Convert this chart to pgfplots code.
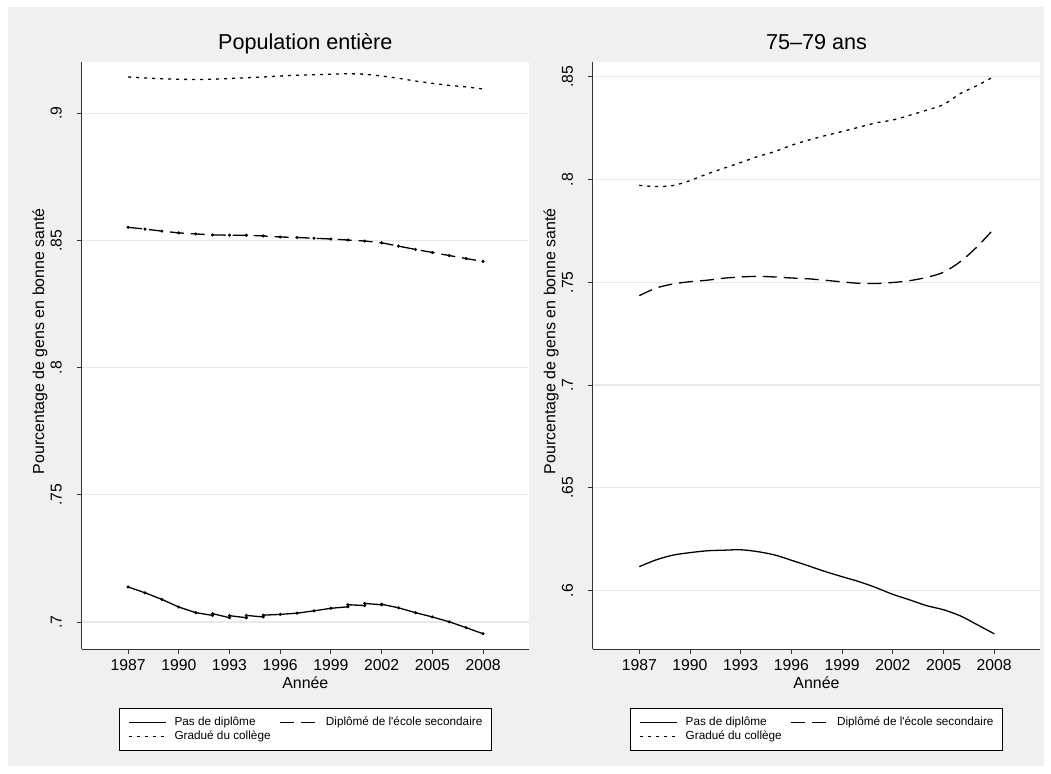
\documentclass[border=0pt]{standalone}
\usepackage{fontspec}
\setmainfont{Liberation Sans}
\usepackage{pgfplots}
\pgfplotsset{compat=1.18}
\definecolor{bggray}{RGB}{240,240,240}
\definecolor{gridgray}{RGB}{232,232,232}
\definecolor{axgray}{RGB}{50,50,50}

\pgfplotsset{
  statastyle/.style={
    scale only axis, width=447.4bp, height=586.5bp,
    xmin=1984.25, xmax=2010.72,
    xtick={1987,1990,1993,1996,1999,2002,2005,2008},
    axis x line*=bottom, axis y line*=left,
    axis line style={-, draw=axgray, line width=0.9bp},
    tick align=outside, major tick length=5bp,
    tick style={draw=axgray, line width=0.9bp},
    minor tick num=0,
    ymajorgrids, xmajorgrids=false,
    grid style={draw=gridgray, line width=1.2bp},
    axis background/.style={fill=white},
    /pgf/number format/assume math mode=true,
    xticklabel style={font=\fontsize{15.8}{18}\selectfont, anchor=base, yshift=-16bp, /pgf/number format/1000 sep={}},
    yticklabel style={font=\fontsize{15.8}{18}\selectfont, xshift=-15bp, rotate=90, anchor=base, inner sep=0pt,
      /pgf/number format/fixed, /pgf/number format/precision=2, /pgf/number format/skip 0.=true},
    title style={at={(axis description cs:0.5,1)}, anchor=base, yshift=7bp, font=\fontsize{21.7}{26}\selectfont},
    xlabel style={at={(axis description cs:0.5,0)}, anchor=base, yshift=-39bp, font=\fontsize{16}{19}\selectfont},
    ylabel style={at={(axis description cs:-0.093,0.525)}, anchor=center, font=\fontsize{16}{19}\selectfont},
    xlabel={Année},
    ylabel={Pourcentage de gens en bonne santé},
    legend columns=2,
    legend cell align=left,
    legend image code/.code={\draw[#1] (0bp,0bp) -- (37bp,0bp);},
    legend style={draw=black, line width=0.8bp, fill=white, inner xsep=9bp, inner ysep=8bp,
      at={(0.5,-0.1013)}, anchor=north, font=\fontsize{11.8}{13}\selectfont, row sep=3.5bp,
      nodes={inner sep=0pt, text height=8.5bp, text depth=2.5bp},
      /tikz/every odd column/.style={column sep=8bp},
      /tikz/every even column/.style={column sep=9bp}},
  },
  solidline/.style={draw=black, line width=1.3bp, solid},
  dashline/.style={draw=black, line width=1.3bp, dash pattern=on 14bp off 7bp},
  dotline/.style={draw=black, line width=1.3bp, dash pattern=on 3bp off 5bp},
}

\begin{document}
\begin{tikzpicture}
\fill[white] (0bp,0bp) rectangle (1051bp,774bp);
\fill[bggray] (7.5bp,7.5bp) rectangle (1043.5bp,766.5bp);

\begin{axis}[statastyle, at={(81.6bp,125bp)}, anchor=south west,
  ymin=0.6894, ymax=0.920, ytick={0.7,0.75,0.8,0.85,0.9},
  title={Population entière}]
\addplot[solidline, mark=*, mark size=0.8bp, mark options={solid}] coordinates {
 (1987,0.7138) (1988,0.7115) (1989,0.7089) (1990,0.7059) (1991,0.7037)
 (1992,0.7026) (1992,0.7033) (1993,0.7017) (1993,0.7025) (1994,0.7017) (1994,0.7026)
 (1995,0.7020) (1995,0.7027) (1996,0.7030) (1997,0.7035) (1998,0.7044) (1999,0.7054)
 (2000,0.7060) (2000,0.7068) (2001,0.7065) (2001,0.7073) (2002,0.7068) (2002,0.7070)
 (2003,0.7056) (2004,0.7037) (2005,0.7020) (2006,0.7001) (2007,0.6978) (2008,0.6954)
};
\addlegendentry{Pas de diplôme}
\addplot[dashline, mark=*, mark size=0.8bp, mark options={solid}] coordinates {
 (1987,0.8552) (1988,0.8545) (1989,0.8537) (1990,0.8530) (1991,0.8526) (1992,0.8522)
 (1993,0.8521) (1994,0.8521) (1995,0.8518) (1996,0.8514) (1997,0.8512) (1998,0.8509)
 (1999,0.8506) (2000,0.8502) (2001,0.8498) (2002,0.8491) (2003,0.8478) (2004,0.8465)
 (2005,0.8453) (2006,0.8441) (2007,0.8429) (2008,0.8418)
};
\addlegendentry{Diplômé de l\textquotesingle école secondaire}
\addplot[dotline] coordinates {
 (1987,0.9143) (1988,0.9139) (1989,0.9136) (1990,0.9134) (1991,0.9133) (1992,0.9134)
 (1993,0.9137) (1994,0.9140) (1995,0.9143) (1996,0.9147) (1997,0.9150) (1998,0.9152)
 (1999,0.9154) (2000,0.9156) (2001,0.9154) (2002,0.9147) (2003,0.9138) (2004,0.9127)
 (2005,0.9118) (2006,0.9110) (2007,0.9104) (2008,0.9096)
};
\addlegendentry{Gradué du collège}
\end{axis}

\begin{axis}[statastyle, at={(592.8bp,125bp)}, anchor=south west,
  ymin=0.5715, ymax=0.857, ytick={0.6,0.65,0.7,0.75,0.8,0.85},
  title={75–79 ans}]
\addplot[solidline, smooth] coordinates {
 (1987,0.6116) (1988,0.6149) (1989,0.6172) (1990,0.6184) (1991,0.6193) (1992,0.6196)
 (1993,0.6198) (1994,0.6189) (1995,0.6173) (1996,0.6147) (1997,0.6120) (1998,0.6092)
 (1999,0.6067) (2000,0.6043) (2001,0.6014) (2002,0.5981) (2003,0.5954) (2004,0.5926)
 (2005,0.5906) (2006,0.5876) (2007,0.5833) (2008,0.5789)
};
\addlegendentry{Pas de diplôme}
\addplot[dashline, smooth] coordinates {
 (1987,0.7435) (1988,0.7472) (1989,0.7492) (1990,0.7503) (1991,0.7510) (1992,0.7520)
 (1993,0.7526) (1994,0.7529) (1995,0.7526) (1996,0.7521) (1997,0.7517) (1998,0.7510)
 (1999,0.7502) (2000,0.7495) (2001,0.7494) (2002,0.7499) (2003,0.7508) (2004,0.7524)
 (2005,0.7549) (2006,0.7601) (2007,0.7674) (2008,0.7762)
};
\addlegendentry{Diplômé de l\textquotesingle école secondaire}
\addplot[dotline, smooth] coordinates {
 (1987,0.7972) (1988,0.7966) (1989,0.7971) (1990,0.7995) (1991,0.8027) (1992,0.8055)
 (1993,0.8083) (1994,0.8112) (1995,0.8136) (1996,0.8167) (1997,0.8192) (1998,0.8214)
 (1999,0.8234) (2000,0.8255) (2001,0.8276) (2002,0.8290) (2003,0.8313) (2004,0.8338)
 (2005,0.8365) (2006,0.8419) (2007,0.8458) (2008,0.8503)
};
\addlegendentry{Gradué du collège}
\end{axis}
\end{tikzpicture}
\end{document}
